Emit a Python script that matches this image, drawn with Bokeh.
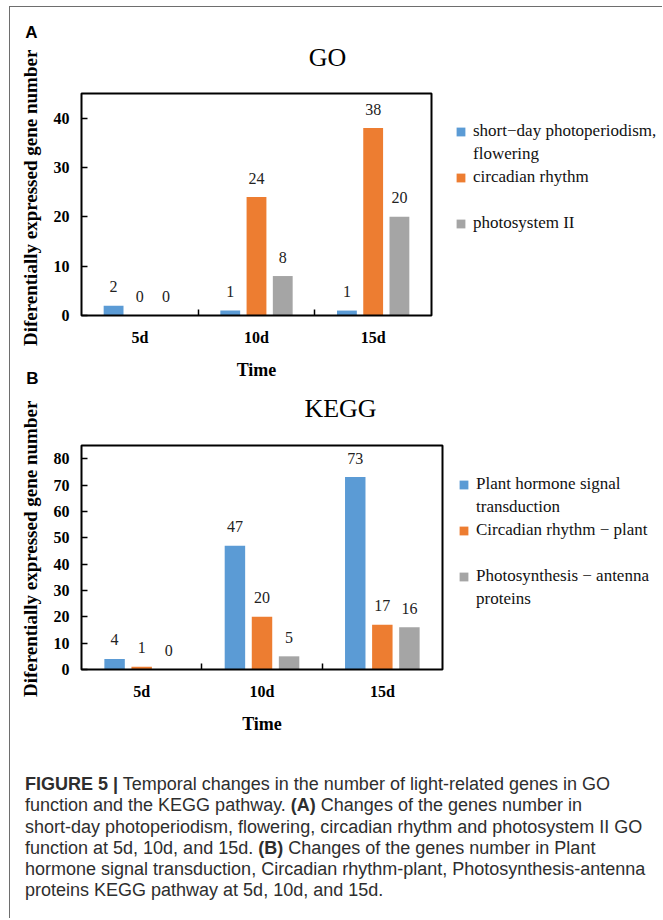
from bokeh.plotting import figure
from bokeh.models import (Range1d, FixedTicker, Legend, LegendItem, Label, Div,
                          ColumnDataSource)
from bokeh.layouts import column
from bokeh.embed import file_html
from bokeh.resources import INLINE
from bokeh.core.properties import value

# ---------------- data ----------------
categories = ["5d", "10d", "15d"]

go_title = "GO"
go_labels = [["short−day photoperiodism,", "flowering"], ["circadian rhythm"], ["photosystem II"]]
go_short_day = [2, 1, 1]
go_circadian = [0, 24, 38]
go_photosystem = [0, 8, 20]
go_yticks = [0, 10, 20, 30, 40]
go_ymax = 45

kegg_title = "KEGG"
kegg_labels = [["Plant hormone signal", "transduction"], ["Circadian rhythm − plant"],
               ["Photosynthesis − antenna", "proteins"]]
kegg_hormone = [4, 47, 73]
kegg_circadian = [1, 20, 17]
kegg_antenna = [0, 5, 16]
kegg_yticks = [0, 10, 20, 30, 40, 50, 60, 70, 80]
kegg_ymax = 85

y_label = "Diferentially expressed  gene number"
x_label = "Time"

colors = ["#5B9BD5", "#ED7D31", "#A5A5A5"]

SERIF = "Liberation Serif"
SANS = "Liberation Sans"

# ---------------- layout (page pixels) ----------------
FIG_LEFT = 10
FIG_W = 652


def make_chart(title, series, labels, yticks, ymax, canvas_top, height,
               frame_l, frame_r, frame_t, frame_b, title_xy, letters, ylabel_center,
               legend_left, legend_top):
    n = len(categories)
    pxu = (frame_r - frame_l) / n          # px per category
    pyu = (frame_b - frame_t) / ymax       # px per unit
    canvas_bottom = canvas_top + height

    def dx(px):
        return (px - frame_l) / pxu

    def dy(py):
        return (frame_b - py) / pyu

    p = figure(width=FIG_W, height=height,
               x_range=Range1d(dx(FIG_LEFT), dx(FIG_LEFT + FIG_W)),
               y_range=Range1d(dy(canvas_bottom), dy(canvas_top)),
               output_backend="svg", toolbar_location=None,
               min_border_left=0, min_border_right=0, min_border_top=0, min_border_bottom=0,
               background_fill_color="white", border_fill_color="white")
    p.outline_line_color = None
    p.grid.visible = False

    offsets = [-0.225, 0.0, 0.225]
    renderers = []
    for k, (vals, color) in enumerate(zip(series, colors)):
        xs = [i + 0.5 + offsets[k] for i in range(n)]
        src = ColumnDataSource(dict(x=xs, top=vals, lab=[str(v) for v in vals]))
        r = p.vbar(x="x", top="top", width=0.17, source=src, fill_color=color,
                   line_color=None)
        p.text(x="x", y="top", text="lab", source=src, y_offset=-19,
               text_align="center", text_baseline="middle",
               text_font=value(SERIF), text_font_size=value("16px"), text_color="#222222")
        renderers.append(r)

    blank = p.vbar(x=[], top=[], width=0.1, fill_alpha=0, line_alpha=0)

    # plot box
    p.quad(left=[0], right=[n], bottom=[0], top=[ymax], fill_color=None,
           line_color="black", line_width=2)

    # axes, fixed at the box edges
    xa = p.xaxis[0]
    xa.fixed_location = 0
    xa.bounds = (0, n)
    xa.ticker = FixedTicker(ticks=[i + 0.5 for i in range(n)],
                            minor_ticks=list(range(1, n)))
    xa.major_label_overrides = {i + 0.5: c for i, c in enumerate(categories)}
    xa.axis_line_color = None
    xa.major_tick_in = 0
    xa.major_tick_out = 0
    xa.minor_tick_in = 6
    xa.minor_tick_out = 0
    xa.minor_tick_line_color = "black"
    xa.minor_tick_line_width = 1.5
    xa.major_label_standoff = 13
    xa.major_label_text_font = SERIF
    xa.major_label_text_font_style = "bold"
    xa.major_label_text_font_size = "16px"
    xa.major_label_text_color = "black"
    xa.axis_label = x_label
    xa.axis_label_standoff = 11
    xa.axis_label_text_font = SERIF
    xa.axis_label_text_font_style = "bold"
    xa.axis_label_text_font_size = "18px"
    xa.axis_label_text_color = "black"

    ya = p.yaxis[0]
    ya.fixed_location = 0
    ya.bounds = (0, 2 * dy(ylabel_center))
    ya.ticker = FixedTicker(ticks=yticks)
    ya.axis_line_color = None
    ya.major_tick_in = 6
    ya.major_tick_out = 0
    ya.major_tick_line_width = 1.5
    ya.minor_tick_line_color = None
    ya.major_label_standoff = 12
    ya.major_label_text_font = SERIF
    ya.major_label_text_font_style = "bold"
    ya.major_label_text_font_size = "16px"
    ya.major_label_text_color = "black"
    ya.axis_label = y_label
    ya.axis_label_standoff = 10
    ya.axis_label_text_font = SERIF
    ya.axis_label_text_font_style = "bold"
    ya.axis_label_text_font_size = "19px"
    ya.axis_label_text_color = "black"

    # title and panel letters
    p.add_layout(Label(x=dx(title_xy[0]), y=dy(title_xy[1]), text=title,
                       text_align="center", text_baseline="middle", text_font=SERIF,
                       text_font_size="26px", text_color="black"))
    for (txt, lx, ly) in letters:
        p.add_layout(Label(x=dx(lx), y=dy(ly), text=txt, text_align="center",
                           text_baseline="middle", text_font=SANS,
                           text_font_style="bold", text_font_size="17px",
                           text_color="black"))

    # legend rows (blank row before the last entry)
    items = []
    for k, lines in enumerate(labels):
        if k == len(labels) - 1:
            items.append(LegendItem(label=" ", renderers=[blank]))
        for j, line in enumerate(lines):
            items.append(LegendItem(label=line, renderers=[renderers[k] if j == 0 else blank]))
    row_h = 23
    leg_h = row_h * len(items)
    leg = Legend(items=items,
                 location=(legend_left - FIG_LEFT, canvas_bottom - (legend_top + leg_h)),
                 glyph_width=11, glyph_height=11, label_standoff=7, label_height=row_h,
                 spacing=0, padding=0, margin=0, border_line_color=None,
                 background_fill_alpha=0, label_text_font=SERIF,
                 label_text_font_size="17px", label_text_color="#111111")
    p.add_layout(leg)
    return p


pA = make_chart(go_title, [go_short_day, go_circadian, go_photosystem], go_labels,
                go_yticks, go_ymax, canvas_top=7, height=380,
                frame_l=81, frame_r=431, frame_t=93, frame_b=315,
                title_xy=(327, 57), letters=[("A", 31, 32), ("B", 32, 378)],
                ylabel_center=195, legend_left=455, legend_top=119.5)
pB = make_chart(kegg_title, [kegg_hormone, kegg_circadian, kegg_antenna], kegg_labels,
                kegg_yticks, kegg_ymax, canvas_top=387, height=358,
                frame_l=81, frame_r=442, frame_t=445, frame_b=669,
                title_xy=(340, 408), letters=[],
                ylabel_center=546, legend_left=458, legend_top=472.5)

caption_html = (
    '<div style="font-family: \'Liberation Sans\', Arial, sans-serif; font-size: 18px; '
    'line-height: 21.3px; color: #2e2e2e; padding: 29px 0 0 15px; white-space: nowrap;">'
    '<b>FIGURE 5 |</b> Temporal changes in the number of light-related genes in GO<br>'
    'function and the KEGG pathway. <b>(A)</b> Changes of the genes number in<br>'
    'short-day photoperiodism, flowering, circadian rhythm and photosystem II GO<br>'
    'function at 5d, 10d, and 15d. <b>(B)</b> Changes of the genes number in Plant<br>'
    'hormone signal transduction, Circadian rhythm-plant, Photosynthesis-antenna<br>'
    'proteins KEGG pathway at 5d, 10d, and 15d.'
    '</div>'
)
cap = Div(text=caption_html, width=FIG_W, height=173, margin=0)

layout = column(pA, pB, cap, spacing=0, margin=(6, 0, 0, 9),
                styles={"border-left": "1px solid #6e6e6e",
                        "border-top": "1px solid #6e6e6e"})

open("out.html", "w").write(file_html(layout, INLINE))
